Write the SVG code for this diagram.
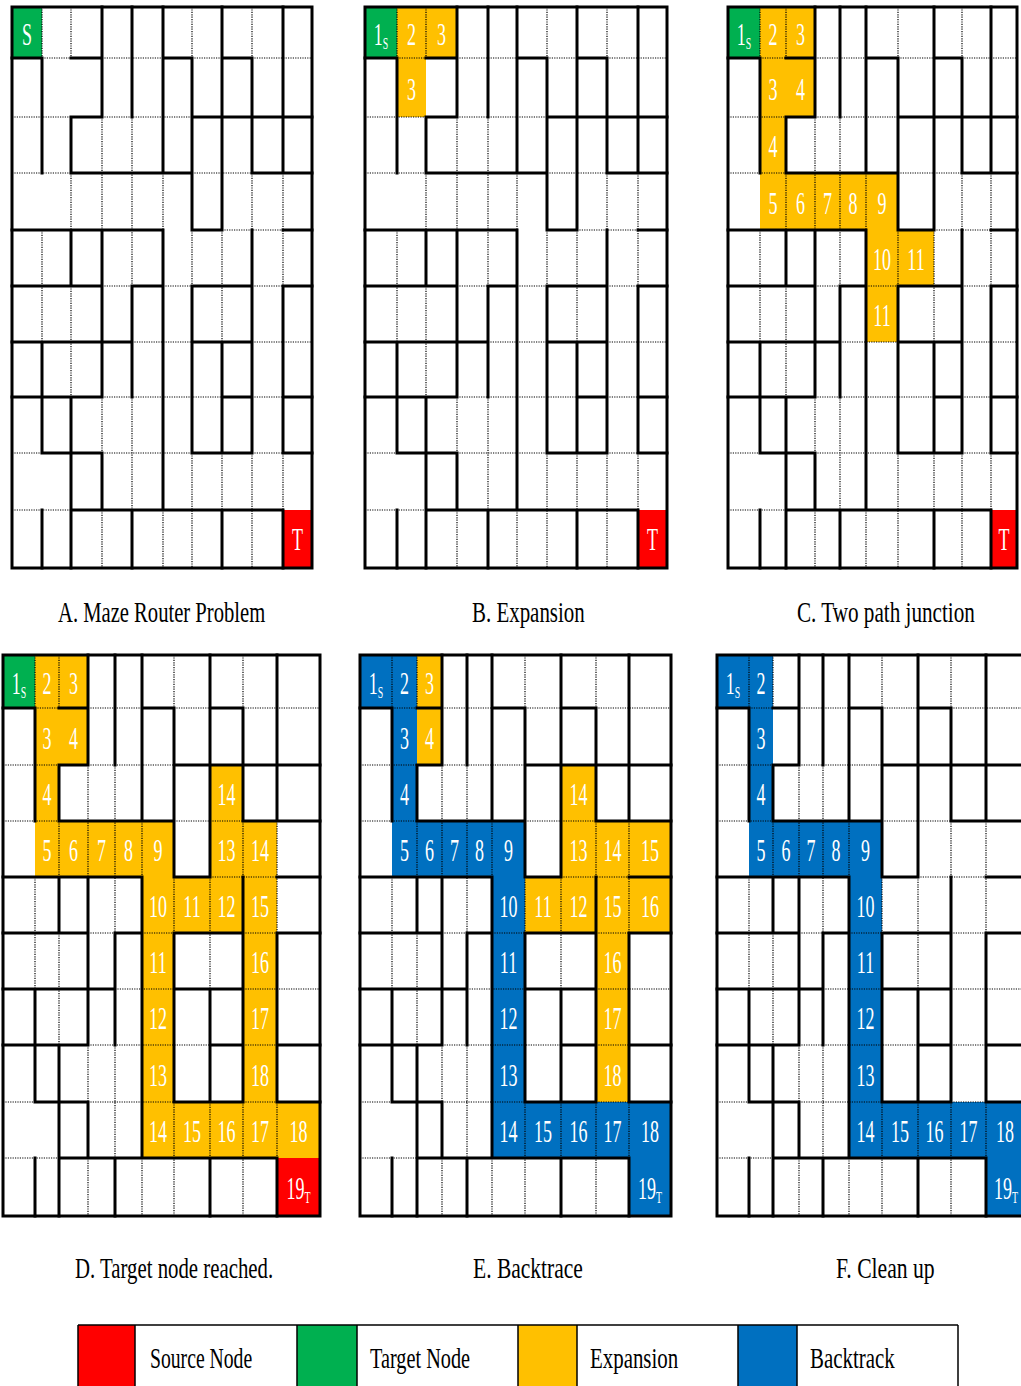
<svg xmlns="http://www.w3.org/2000/svg" width="1021" height="1386" viewBox="0 0 1021 1386">
<style>
.wall{fill:none;stroke:#000;stroke-width:3;stroke-linecap:square}
.grid{fill:none;stroke:#000;stroke-width:1.2;stroke-dasharray:1.2 1.2}
.frame{fill:none;stroke:#000;stroke-width:3}
.g{fill:#00B050}.y{fill:#FFC000}.r{fill:#FF0000}.b{fill:#0070C0}
.n{font-family:"Liberation Serif",serif;font-size:31px;fill:#fff;text-anchor:middle}
.sub{font-size:17px}
.cap{font-family:"Liberation Serif",serif;font-size:30px;fill:#000}
.lg{fill:none;stroke:#000;stroke-width:1.5}
</style>
<rect width="1021" height="1386" fill="#fff"/>

<g id="panelA">
<rect class="g" x="12" y="7" width="30" height="51"/>
<rect class="r" x="283" y="510" width="29" height="58"/>
<path class="grid" d="M42 7V58M42 230V342M71 7V58M71 173V230M71 286V397M102 117V230M102 397V453M102 510V568M132 117V286M132 397V510M163 173V230M163 510V568M192 7V58M192 230V286M192 453V568M222 230V342M222 453V510M252 7V58M252 173V230M252 453V568M283 173V286M283 453V510M42 58H71M102 58H163M192 58H222M252 58H312M12 117H71M102 117H192M12 173H71M192 173H252M222 230H283M102 286H132M163 286H192M252 286H283M132 342H192M252 342H312M102 397H222M252 397H283M12 453H42M102 453H192M252 453H283M12 510H71"/>
<path class="wall" d="M42 58V173M42 342V453M42 510V568M71 117V173M71 230V286M71 397V568M102 7V117M102 230V397M102 453V510M132 7V117M132 286V397M132 510V568M163 7V173M163 230V510M192 58V230M192 286V453M222 7V230M222 342V453M222 510V568M252 58V173M252 230V453M283 7V173M283 286V453M283 510V568M12 58H42M71 58H102M163 58H192M222 58H252M71 117H102M192 117H312M71 173H192M252 173H312M12 230H163M192 230H222M283 230H312M12 286H102M132 286H163M192 286H252M283 286H312M12 342H132M192 342H252M12 397H102M222 397H252M283 397H312M42 453H102M192 453H252M283 453H312M71 510H283"/>
<rect class="frame" x="12" y="7" width="300" height="561"/>
<text class="n" transform="translate(27,45) scale(0.58,1)">S</text>
<text class="n" transform="translate(297.5,550) scale(0.58,1)">T</text>
</g>

<g id="panelB">
<rect class="g" x="365" y="7" width="32" height="51"/>
<rect class="y" x="397" y="7" width="29" height="51"/>
<rect class="y" x="426" y="7" width="31" height="51"/>
<rect class="y" x="397" y="58" width="29" height="59"/>
<rect class="r" x="638" y="510" width="29" height="58"/>
<path class="grid" d="M397 7V58M397 230V342M426 7V58M426 173V230M426 286V397M457 117V230M457 397V453M457 510V568M488 117V286M488 397V510M517 173V230M517 510V568M547 7V58M547 230V286M547 453V568M577 230V342M577 453V510M607 7V58M607 173V230M607 453V568M638 173V286M638 453V510M397 58H426M457 58H517M547 58H577M607 58H667M365 117H426M457 117H547M365 173H426M547 173H607M577 230H638M457 286H488M517 286H547M607 286H638M488 342H547M607 342H667M457 397H577M607 397H638M365 453H397M457 453H547M607 453H638M365 510H426"/>
<path class="wall" d="M397 58V173M397 342V453M397 510V568M426 117V173M426 230V286M426 397V568M457 7V117M457 230V397M457 453V510M488 7V117M488 286V397M488 510V568M517 7V173M517 230V510M547 58V230M547 286V453M577 7V230M577 342V453M577 510V568M607 58V173M607 230V453M638 7V173M638 286V453M638 510V568M365 58H397M426 58H457M517 58H547M577 58H607M426 117H457M547 117H667M426 173H547M607 173H667M365 230H517M547 230H577M638 230H667M365 286H457M488 286H517M547 286H607M638 286H667M365 342H488M547 342H607M365 397H457M577 397H607M638 397H667M397 453H457M547 453H607M638 453H667M426 510H638"/>
<rect class="frame" x="365" y="7" width="302" height="561"/>
<text class="n" transform="translate(381,45) scale(0.58,1)">1<tspan class="sub" dy="4">S</tspan></text>
<text class="n" transform="translate(411.5,45) scale(0.58,1)">2</text>
<text class="n" transform="translate(441.5,45) scale(0.58,1)">3</text>
<text class="n" transform="translate(411.5,99.5) scale(0.58,1)">3</text>
<text class="n" transform="translate(652.5,550) scale(0.58,1)">T</text>
</g>

<g id="panelC">
<rect class="g" x="728" y="7" width="32" height="51"/>
<rect class="y" x="760" y="7" width="26" height="51"/>
<rect class="y" x="786" y="7" width="29" height="51"/>
<rect class="y" x="760" y="58" width="55" height="59"/>
<rect class="y" x="760" y="117" width="26" height="56"/>
<rect class="y" x="760" y="173" width="138" height="57"/>
<rect class="y" x="866" y="230" width="68" height="56"/>
<rect class="y" x="866" y="286" width="32" height="56"/>
<rect class="r" x="991" y="510" width="26" height="58"/>
<path class="grid" d="M760 7V58M760 230V342M786 7V58M786 173V230M786 286V397M815 117V230M815 397V453M815 510V568M840 117V286M840 397V510M866 173V230M866 510V568M898 7V58M898 230V286M898 453V568M934 230V342M934 453V510M962 7V58M962 173V230M962 453V568M991 173V286M991 453V510M760 58H786M815 58H866M898 58H934M962 58H1017M728 117H786M815 117H898M728 173H786M898 173H962M934 230H991M815 286H840M866 286H898M962 286H991M840 342H898M962 342H1017M815 397H934M962 397H991M728 453H760M815 453H898M962 453H991M728 510H786"/>
<path class="wall" d="M760 58V173M760 342V453M760 510V568M786 117V173M786 230V286M786 397V568M815 7V117M815 230V397M815 453V510M840 7V117M840 286V397M840 510V568M866 7V173M866 230V510M898 58V230M898 286V453M934 7V230M934 342V453M934 510V568M962 58V173M962 230V453M991 7V173M991 286V453M991 510V568M728 58H760M786 58H815M866 58H898M934 58H962M786 117H815M898 117H1017M786 173H898M962 173H1017M728 230H866M898 230H934M991 230H1017M728 286H815M840 286H866M898 286H962M991 286H1017M728 342H840M898 342H962M728 397H815M934 397H962M991 397H1017M760 453H815M898 453H962M991 453H1017M786 510H991"/>
<rect class="frame" x="728" y="7" width="289" height="561"/>
<text class="n" transform="translate(744,45) scale(0.58,1)">1<tspan class="sub" dy="4">S</tspan></text>
<text class="n" transform="translate(773,45) scale(0.58,1)">2</text>
<text class="n" transform="translate(800.5,45) scale(0.58,1)">3</text>
<text class="n" transform="translate(773,99.5) scale(0.58,1)">3</text>
<text class="n" transform="translate(800.5,99.5) scale(0.58,1)">4</text>
<text class="n" transform="translate(773,157) scale(0.58,1)">4</text>
<text class="n" transform="translate(773,213.5) scale(0.58,1)">5</text>
<text class="n" transform="translate(800.5,213.5) scale(0.58,1)">6</text>
<text class="n" transform="translate(827.5,213.5) scale(0.58,1)">7</text>
<text class="n" transform="translate(853,213.5) scale(0.58,1)">8</text>
<text class="n" transform="translate(882,213.5) scale(0.58,1)">9</text>
<text class="n" transform="translate(882,270) scale(0.58,1)">10</text>
<text class="n" transform="translate(916,270) scale(0.58,1)">11</text>
<text class="n" transform="translate(882,326) scale(0.58,1)">11</text>
<text class="n" transform="translate(1004,550) scale(0.58,1)">T</text>
</g>

<g id="panelD">
<rect class="g" x="3" y="655" width="32" height="53"/>
<rect class="y" x="35" y="655" width="53" height="53"/>
<rect class="y" x="35" y="708" width="53" height="57"/>
<rect class="y" x="35" y="765" width="24" height="56"/>
<rect class="y" x="210" y="765" width="33" height="56"/>
<rect class="y" x="35" y="821" width="139" height="56"/>
<rect class="y" x="210" y="821" width="67" height="56"/>
<rect class="y" x="142" y="877" width="135" height="56"/>
<rect class="y" x="142" y="933" width="32" height="225"/>
<rect class="y" x="243" y="933" width="34" height="169"/>
<rect class="y" x="142" y="1102" width="178" height="56"/>
<rect class="r" x="277" y="1158" width="43" height="58"/>
<path class="grid" d="M35 655V708M35 877V989M59 655V708M59 821V877M59 933V1045M88 765V877M88 1045V1102M88 1158V1216M115 765V933M115 1045V1158M142 821V877M142 1158V1216M174 655V708M174 877V933M174 1102V1216M210 877V989M210 1102V1158M243 655V708M243 821V877M243 1102V1216M277 821V933M277 1102V1158M35 708H59M88 708H142M174 708H210M243 708H320M3 765H59M88 765H174M3 821H59M174 821H243M210 877H277M88 933H115M142 933H174M243 933H277M115 989H174M243 989H320M88 1045H210M243 1045H277M3 1102H35M88 1102H174M243 1102H277M3 1158H59"/>
<path class="wall" d="M35 708V821M35 989V1102M35 1158V1216M59 765V821M59 877V933M59 1045V1216M88 655V765M88 877V1045M88 1102V1158M115 655V765M115 933V1045M115 1158V1216M142 655V821M142 877V1158M174 708V877M174 933V1102M210 655V877M210 989V1102M210 1158V1216M243 708V821M243 877V1102M277 655V821M277 933V1102M277 1158V1216M3 708H35M59 708H88M142 708H174M210 708H243M59 765H88M174 765H320M59 821H174M243 821H320M3 877H142M174 877H210M277 877H320M3 933H88M115 933H142M174 933H243M277 933H320M3 989H115M174 989H243M3 1045H88M210 1045H243M277 1045H320M35 1102H88M174 1102H243M277 1102H320M59 1158H277"/>
<rect class="frame" x="3" y="655" width="317" height="561"/>
<text class="n" transform="translate(19,694) scale(0.58,1)">1<tspan class="sub" dy="4">S</tspan></text>
<text class="n" transform="translate(47,694) scale(0.58,1)">2</text>
<text class="n" transform="translate(73.5,694) scale(0.58,1)">3</text>
<text class="n" transform="translate(47,748.5) scale(0.58,1)">3</text>
<text class="n" transform="translate(73.5,748.5) scale(0.58,1)">4</text>
<text class="n" transform="translate(47,805) scale(0.58,1)">4</text>
<text class="n" transform="translate(226.5,805) scale(0.58,1)">14</text>
<text class="n" transform="translate(47,861) scale(0.58,1)">5</text>
<text class="n" transform="translate(73.5,861) scale(0.58,1)">6</text>
<text class="n" transform="translate(101.5,861) scale(0.58,1)">7</text>
<text class="n" transform="translate(128.5,861) scale(0.58,1)">8</text>
<text class="n" transform="translate(158,861) scale(0.58,1)">9</text>
<text class="n" transform="translate(226.5,861) scale(0.58,1)">13</text>
<text class="n" transform="translate(260,861) scale(0.58,1)">14</text>
<text class="n" transform="translate(158,917) scale(0.58,1)">10</text>
<text class="n" transform="translate(192,917) scale(0.58,1)">11</text>
<text class="n" transform="translate(226.5,917) scale(0.58,1)">12</text>
<text class="n" transform="translate(260,917) scale(0.58,1)">15</text>
<text class="n" transform="translate(158,973) scale(0.58,1)">11</text>
<text class="n" transform="translate(260,973) scale(0.58,1)">16</text>
<text class="n" transform="translate(158,1029) scale(0.58,1)">12</text>
<text class="n" transform="translate(260,1029) scale(0.58,1)">17</text>
<text class="n" transform="translate(158,1085.5) scale(0.58,1)">13</text>
<text class="n" transform="translate(260,1085.5) scale(0.58,1)">18</text>
<text class="n" transform="translate(158,1142) scale(0.58,1)">14</text>
<text class="n" transform="translate(192,1142) scale(0.58,1)">15</text>
<text class="n" transform="translate(226.5,1142) scale(0.58,1)">16</text>
<text class="n" transform="translate(260,1142) scale(0.58,1)">17</text>
<text class="n" transform="translate(298.5,1142) scale(0.58,1)">18</text>
<text class="n" transform="translate(298.5,1199) scale(0.58,1)">19<tspan class="sub" dy="4">T</tspan></text>
</g>

<g id="panelE">
<rect class="b" x="360" y="655" width="57" height="53"/>
<rect class="y" x="417" y="655" width="25" height="53"/>
<rect class="b" x="392" y="708" width="25" height="113"/>
<rect class="y" x="417" y="708" width="25" height="57"/>
<rect class="b" x="392" y="821" width="133" height="56"/>
<rect class="b" x="492" y="877" width="33" height="281"/>
<rect class="b" x="525" y="1102" width="146" height="56"/>
<rect class="b" x="629" y="1158" width="42" height="58"/>
<rect class="y" x="561" y="765" width="35" height="56"/>
<rect class="y" x="561" y="821" width="110" height="56"/>
<rect class="y" x="525" y="877" width="146" height="56"/>
<rect class="y" x="596" y="933" width="33" height="169"/>
<path class="grid" d="M392 655V708M392 877V989M417 655V708M417 821V877M417 933V1045M442 765V877M442 1045V1102M442 1158V1216M467 765V933M467 1045V1158M492 821V877M492 1158V1216M525 655V708M525 877V933M525 1102V1216M561 877V989M561 1102V1158M596 655V708M596 821V877M596 1102V1216M629 821V933M629 1102V1158M392 708H417M442 708H492M525 708H561M596 708H671M360 765H417M442 765H525M360 821H417M525 821H596M561 877H629M442 933H467M492 933H525M596 933H629M467 989H525M596 989H671M442 1045H561M596 1045H629M360 1102H392M442 1102H525M596 1102H629M360 1158H417"/>
<path class="wall" d="M392 708V821M392 989V1102M392 1158V1216M417 765V821M417 877V933M417 1045V1216M442 655V765M442 877V1045M442 1102V1158M467 655V765M467 933V1045M467 1158V1216M492 655V821M492 877V1158M525 708V877M525 933V1102M561 655V877M561 989V1102M561 1158V1216M596 708V821M596 877V1102M629 655V821M629 933V1102M629 1158V1216M360 708H392M417 708H442M492 708H525M561 708H596M417 765H442M525 765H671M417 821H525M596 821H671M360 877H492M525 877H561M629 877H671M360 933H442M467 933H492M525 933H596M629 933H671M360 989H467M525 989H596M360 1045H442M561 1045H596M629 1045H671M392 1102H442M525 1102H596M629 1102H671M417 1158H629"/>
<rect class="frame" x="360" y="655" width="311" height="561"/>
<text class="n" transform="translate(376,694) scale(0.58,1)">1<tspan class="sub" dy="4">S</tspan></text>
<text class="n" transform="translate(404.5,694) scale(0.58,1)">2</text>
<text class="n" transform="translate(429.5,694) scale(0.58,1)">3</text>
<text class="n" transform="translate(404.5,748.5) scale(0.58,1)">3</text>
<text class="n" transform="translate(429.5,748.5) scale(0.58,1)">4</text>
<text class="n" transform="translate(404.5,805) scale(0.58,1)">4</text>
<text class="n" transform="translate(578.5,805) scale(0.58,1)">14</text>
<text class="n" transform="translate(404.5,861) scale(0.58,1)">5</text>
<text class="n" transform="translate(429.5,861) scale(0.58,1)">6</text>
<text class="n" transform="translate(454.5,861) scale(0.58,1)">7</text>
<text class="n" transform="translate(479.5,861) scale(0.58,1)">8</text>
<text class="n" transform="translate(508.5,861) scale(0.58,1)">9</text>
<text class="n" transform="translate(578.5,861) scale(0.58,1)">13</text>
<text class="n" transform="translate(612.5,861) scale(0.58,1)">14</text>
<text class="n" transform="translate(650,861) scale(0.58,1)">15</text>
<text class="n" transform="translate(508.5,917) scale(0.58,1)">10</text>
<text class="n" transform="translate(543,917) scale(0.58,1)">11</text>
<text class="n" transform="translate(578.5,917) scale(0.58,1)">12</text>
<text class="n" transform="translate(612.5,917) scale(0.58,1)">15</text>
<text class="n" transform="translate(650,917) scale(0.58,1)">16</text>
<text class="n" transform="translate(508.5,973) scale(0.58,1)">11</text>
<text class="n" transform="translate(612.5,973) scale(0.58,1)">16</text>
<text class="n" transform="translate(508.5,1029) scale(0.58,1)">12</text>
<text class="n" transform="translate(612.5,1029) scale(0.58,1)">17</text>
<text class="n" transform="translate(508.5,1085.5) scale(0.58,1)">13</text>
<text class="n" transform="translate(612.5,1085.5) scale(0.58,1)">18</text>
<text class="n" transform="translate(508.5,1142) scale(0.58,1)">14</text>
<text class="n" transform="translate(543,1142) scale(0.58,1)">15</text>
<text class="n" transform="translate(578.5,1142) scale(0.58,1)">16</text>
<text class="n" transform="translate(612.5,1142) scale(0.58,1)">17</text>
<text class="n" transform="translate(650,1142) scale(0.58,1)">18</text>
<text class="n" transform="translate(650,1199) scale(0.58,1)">19<tspan class="sub" dy="4">T</tspan></text>
</g>

<g id="panelF">
<rect class="b" x="717" y="655" width="56" height="53"/>
<rect class="b" x="749" y="708" width="24" height="113"/>
<rect class="b" x="749" y="821" width="133" height="56"/>
<rect class="b" x="849" y="877" width="33" height="281"/>
<rect class="b" x="882" y="1102" width="146" height="56"/>
<rect class="b" x="986" y="1158" width="42" height="58"/>
<path class="grid" d="M749 655V708M749 877V989M773 655V708M773 821V877M773 933V1045M799 765V877M799 1045V1102M799 1158V1216M823 765V933M823 1045V1158M849 821V877M849 1158V1216M882 655V708M882 877V933M882 1102V1216M918 877V989M918 1102V1158M951 655V708M951 821V877M951 1102V1216M986 821V933M986 1102V1158M749 708H773M799 708H849M882 708H918M951 708H1028M717 765H773M799 765H882M717 821H773M882 821H951M918 877H986M799 933H823M849 933H882M951 933H986M823 989H882M951 989H1028M799 1045H918M951 1045H986M717 1102H749M799 1102H882M951 1102H986M717 1158H773"/>
<path class="wall" d="M749 708V821M749 989V1102M749 1158V1216M773 765V821M773 877V933M773 1045V1216M799 655V765M799 877V1045M799 1102V1158M823 655V765M823 933V1045M823 1158V1216M849 655V821M849 877V1158M882 708V877M882 933V1102M918 655V877M918 989V1102M918 1158V1216M951 708V821M951 877V1102M986 655V821M986 933V1102M986 1158V1216M717 708H749M773 708H799M849 708H882M918 708H951M773 765H799M882 765H1028M773 821H882M951 821H1028M717 877H849M882 877H918M986 877H1028M717 933H799M823 933H849M882 933H951M986 933H1028M717 989H823M882 989H951M717 1045H799M918 1045H951M986 1045H1028M749 1102H799M882 1102H951M986 1102H1028M773 1158H986"/>
<rect class="frame" x="717" y="655" width="311" height="561"/>
<text class="n" transform="translate(733,694) scale(0.58,1)">1<tspan class="sub" dy="4">S</tspan></text>
<text class="n" transform="translate(761,694) scale(0.58,1)">2</text>
<text class="n" transform="translate(761,748.5) scale(0.58,1)">3</text>
<text class="n" transform="translate(761,805) scale(0.58,1)">4</text>
<text class="n" transform="translate(761,861) scale(0.58,1)">5</text>
<text class="n" transform="translate(786,861) scale(0.58,1)">6</text>
<text class="n" transform="translate(811,861) scale(0.58,1)">7</text>
<text class="n" transform="translate(836,861) scale(0.58,1)">8</text>
<text class="n" transform="translate(865.5,861) scale(0.58,1)">9</text>
<text class="n" transform="translate(865.5,917) scale(0.58,1)">10</text>
<text class="n" transform="translate(865.5,973) scale(0.58,1)">11</text>
<text class="n" transform="translate(865.5,1029) scale(0.58,1)">12</text>
<text class="n" transform="translate(865.5,1085.5) scale(0.58,1)">13</text>
<text class="n" transform="translate(865.5,1142) scale(0.58,1)">14</text>
<text class="n" transform="translate(900,1142) scale(0.58,1)">15</text>
<text class="n" transform="translate(934.5,1142) scale(0.58,1)">16</text>
<text class="n" transform="translate(968.5,1142) scale(0.58,1)">17</text>
<text class="n" transform="translate(1005,1142) scale(0.58,1)">18</text>
<text class="n" transform="translate(1006,1199) scale(0.58,1)">19<tspan class="sub" dy="4">T</tspan></text>
</g>

<g id="captions">
<text class="cap" transform="translate(58,622) scale(0.7,1)" textLength="296" lengthAdjust="spacingAndGlyphs">A. Maze Router Problem</text>
<text class="cap" transform="translate(472,622) scale(0.7,1)" textLength="161" lengthAdjust="spacingAndGlyphs">B. Expansion</text>
<text class="cap" transform="translate(797,622) scale(0.7,1)" textLength="254" lengthAdjust="spacingAndGlyphs">C. Two path junction</text>
<text class="cap" transform="translate(75,1278) scale(0.7,1)" textLength="283" lengthAdjust="spacingAndGlyphs">D. Target node reached.</text>
<text class="cap" transform="translate(473,1278) scale(0.7,1)" textLength="157" lengthAdjust="spacingAndGlyphs">E. Backtrace</text>
<text class="cap" transform="translate(836,1278) scale(0.7,1)" textLength="141" lengthAdjust="spacingAndGlyphs">F. Clean up</text>
</g>

<g id="legend">
<rect class="r" x="78" y="1325" width="57" height="70"/>
<rect class="g" x="297" y="1325" width="60" height="70"/>
<rect class="y" x="518" y="1325" width="59" height="70"/>
<rect class="b" x="738" y="1325" width="59" height="70"/>
<path class="lg" d="M78 1325H958M78 1325V1390M135 1325V1390M297 1325V1390M357 1325V1390M518 1325V1390M577 1325V1390M738 1325V1390M797 1325V1390M958 1325V1390"/>
<text class="cap" transform="translate(150,1368) scale(0.7,1)" textLength="146" lengthAdjust="spacingAndGlyphs">Source Node</text>
<text class="cap" transform="translate(370,1368) scale(0.7,1)" textLength="143" lengthAdjust="spacingAndGlyphs">Target Node</text>
<text class="cap" transform="translate(590,1368) scale(0.7,1)" textLength="126" lengthAdjust="spacingAndGlyphs">Expansion</text>
<text class="cap" transform="translate(810,1368) scale(0.7,1)" textLength="121" lengthAdjust="spacingAndGlyphs">Backtrack</text>
</g>
</svg>
